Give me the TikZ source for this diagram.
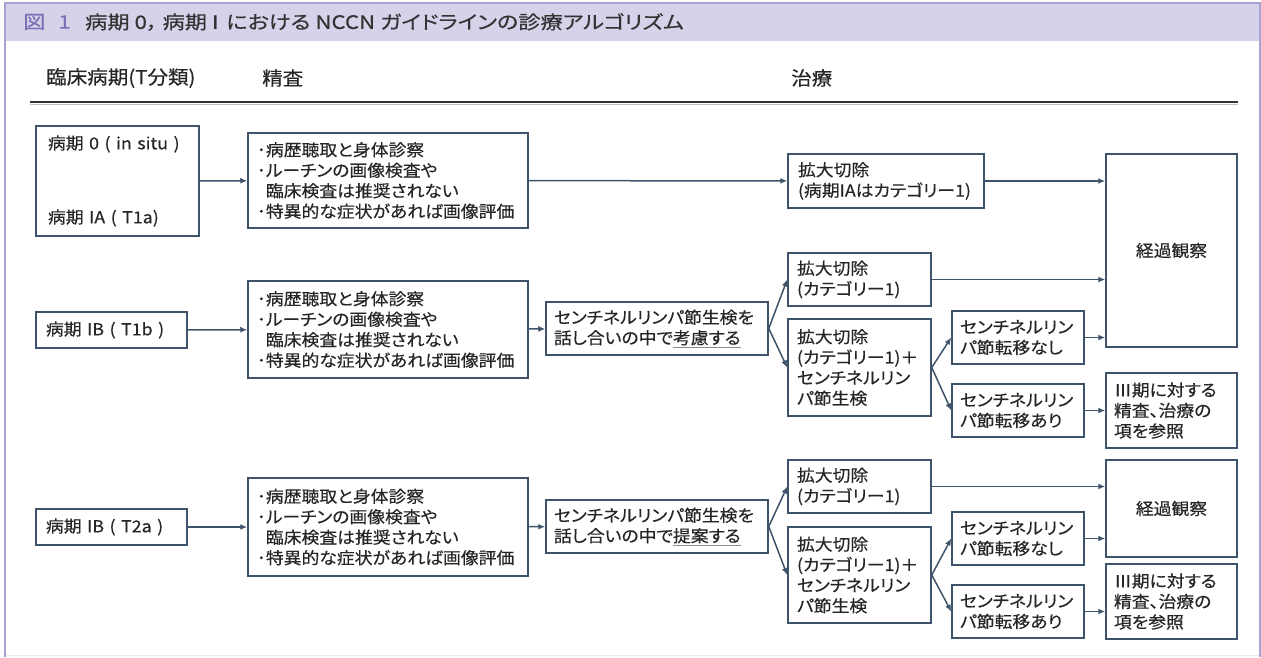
\documentclass[tikz,border=0pt]{standalone}
\usepackage{fontspec}
\setmainfont{Noto Sans CJK JP}[FakeStretch=1.08, FakeBold=0.4, RawFeature=+palt]
\newfontfamily\titlefont{Noto Sans CJK JP}[FakeStretch=1.2, FakeBold=0.4, RawFeature=+palt]
\usepackage{tikz}
\usetikzlibrary{arrows.meta}
\usetikzlibrary{positioning}

\definecolor{boxc}{HTML}{3F546B}
\definecolor{framec}{HTML}{A9A3D3}
\definecolor{barc}{HTML}{D5D3EA}
\definecolor{figc}{HTML}{7B70B6}
\definecolor{txtc}{HTML}{262626}

\newcommand{\ul}[1]{{\color{black!45}\underline{\textcolor{txtc}{#1}}}}

\begin{document}
\begin{tikzpicture}
        [x=1pt, y=-1pt, >={Latex[length=7pt,width=6pt]},
         every node/.style={text=txtc, font=\fontsize{16.5}{20.5}\selectfont},
         box/.style={draw=boxc, line width=1.5pt, inner sep=0pt, align=left},
         headtxt/.style={anchor=west, inner sep=0pt, font=\fontsize{19}{20}\selectfont},
         titletxt/.style={anchor=west, inner sep=0pt, font=\titlefont\fontsize{18.5}{20}\selectfont},
         conn/.style={draw=boxc, line width=1.5pt, ->}]
        \useasboundingbox (0,0) rectangle (1261,657);

        % frame and title bar
        \fill [barc] (5,3) rectangle (1260,41);
        \draw [black!8] (5,655) -- (1260,655);
        \draw [framec, line width=1.2pt] (5,657) -- (5,3) -- (1260,3) -- (1260,657);
        \node [titletxt, text=figc] (fignum) at (23,22) {図\hspace{0.7em}1};
        \node [titletxt, text=black!80] (title) at (85,22)
            {病期 0，\hspace{0.25em}病期 I\hspace{0.15em} における NCCN ガイドラインの診療アルゴリズム};

        % column heads
        \node [headtxt] (hstage) at (46,78) {臨床病期(T分類)};
        \node [headtxt] (hexam) at (262,78) {精査};
        \node [headtxt] (htreat) at (791,78) {治療};
        \draw [line width=2pt, black!80] (30,102) -- (1238,102);
        \draw [line width=1pt, black!25] (30,104) -- (1238,104);

        % stage 0 / IA
        \node [box, minimum width=163pt, minimum height=110pt, text width=139pt] (s0) at (117.5,181)
            {病期 0 ( in situ )\\[53.5pt]病期 IA ( T1a)};
        \node [box, minimum width=280pt, minimum height=95pt, text width=262pt] (ex1) at (388,180.5)
            {･病歴聴取と身体診察\\･ルーチンの画像検査や\\\phantom{･}臨床検査は推奨されない\\･特異的な症状があれば画像評価};
        \node [box, minimum width=196pt, minimum height=54pt, text width=176pt] (tr1) at (886,181)
            {拡大切除\\(病期IAはカテゴリー1)};
        \node [box, minimum width=131pt, minimum height=193pt, align=center] (obs1) at (1171.5,250.5) {経過観察};

        % stage IB (T1b)
        \node [box, minimum width=151pt, minimum height=36pt, text width=131pt] (s1) at (111.5,330) {病期 IB ( T1b )};
        \node [box, minimum width=280pt, minimum height=97pt, text width=262pt] (ex2) at (388,329.5)
            {･病歴聴取と身体診察\\･ルーチンの画像検査や\\\phantom{･}臨床検査は推奨されない\\･特異的な症状があれば画像評価};
        \node [box, minimum width=222pt, minimum height=53pt, text width=206pt] (sn1) at (657,328.5)
            {センチネルリンパ節生検を\\話し合いの中で\ul{考慮する}};
        \node [box, minimum width=143pt, minimum height=53pt, text width=125pt] (tr2a) at (859.5,279.5)
            {拡大切除\\(カテゴリー1)};
        \node [box, minimum width=143pt, minimum height=97pt, text width=125pt] (tr2b) at (859.5,367.5)
            {拡大切除\\(カテゴリー1)＋\\センチネルリン\\パ節生検};
        \node [box, minimum width=132pt, minimum height=53pt, text width=116pt] (neg1) at (1018,337.5)
            {センチネルリン\\パ節転移なし};
        \node [box, minimum width=132pt, minimum height=53pt, text width=116pt] (pos1) at (1018,410.5)
            {センチネルリン\\パ節転移あり};
        \node [box, minimum width=131pt, minimum height=75pt, text width=115pt] (st3a) at (1171.5,410.5)
            {Ⅲ期に対する\\精査、治療の\\項を参照};

        % stage IB (T2a)
        \node [box, minimum width=151pt, minimum height=36pt, text width=131pt] (s2) at (111.5,527) {病期 IB ( T2a )};
        \node [box, minimum width=280pt, minimum height=98pt, text width=262pt] (ex3) at (388,527)
            {･病歴聴取と身体診察\\･ルーチンの画像検査や\\\phantom{･}臨床検査は推奨されない\\･特異的な症状があれば画像評価};
        \node [box, minimum width=222pt, minimum height=53pt, text width=206pt] (sn2) at (657,526.5)
            {センチネルリンパ節生検を\\話し合いの中で\ul{提案する}};
        \node [box, minimum width=143pt, minimum height=53pt, text width=125pt] (tr3a) at (859.5,486.5)
            {拡大切除\\(カテゴリー1)};
        \node [box, minimum width=143pt, minimum height=96pt, text width=125pt] (tr3b) at (859.5,575)
            {拡大切除\\(カテゴリー1)＋\\センチネルリン\\パ節生検};
        \node [box, minimum width=131pt, minimum height=97pt, align=center] (obs2) at (1171.5,508.5) {経過観察};
        \node [box, minimum width=132pt, minimum height=53pt, text width=116pt] (neg2) at (1018,538.5)
            {センチネルリン\\パ節転移なし};
        \node [box, minimum width=132pt, minimum height=53pt, text width=116pt] (pos2) at (1018,611.5)
            {センチネルリン\\パ節転移あり};
        \node [box, minimum width=131pt, minimum height=75pt, text width=115pt] (st3b) at (1171.5,601.5)
            {Ⅲ期に対する\\精査、治療の\\項を参照};

        \draw [conn] (s0) -- (ex1);
        \draw [conn] (ex1) -- (tr1);
        \draw [conn] (tr1) -- (tr1 -| obs1.west);

        \draw [conn] (s1) -- (ex2);
        \draw [conn] (ex2) -- (sn1);
        \draw [conn] (sn1.east) -- (tr2a.west);
        \draw [conn] (sn1.east) -- (tr2b.west);
        \draw [conn] (tr2a) -- (tr2a -| obs1.west);
        \draw [conn] (tr2b.east) -- (neg1.west);
        \draw [conn] (tr2b.east) -- (pos1.west);
        \draw [conn] (neg1) -- (neg1 -| obs1.west);
        \draw [conn] (pos1) -- (pos1 -| st3a.west);

        \draw [conn] (s2) -- (ex3);
        \draw [conn] (ex3) -- (sn2);
        \draw [conn] (sn2.east) -- (tr3a.west);
        \draw [conn] (sn2.east) -- (tr3b.west);
        \draw [conn] (tr3a) -- (tr3a -| obs2.west);
        \draw [conn] (tr3b.east) -- (neg2.west);
        \draw [conn] (tr3b.east) -- (pos2.west);
        \draw [conn] (neg2) -- (neg2 -| obs2.west);
        \draw [conn] (pos2) -- (pos2 -| st3b.west);
    \end{tikzpicture}
\end{document}
